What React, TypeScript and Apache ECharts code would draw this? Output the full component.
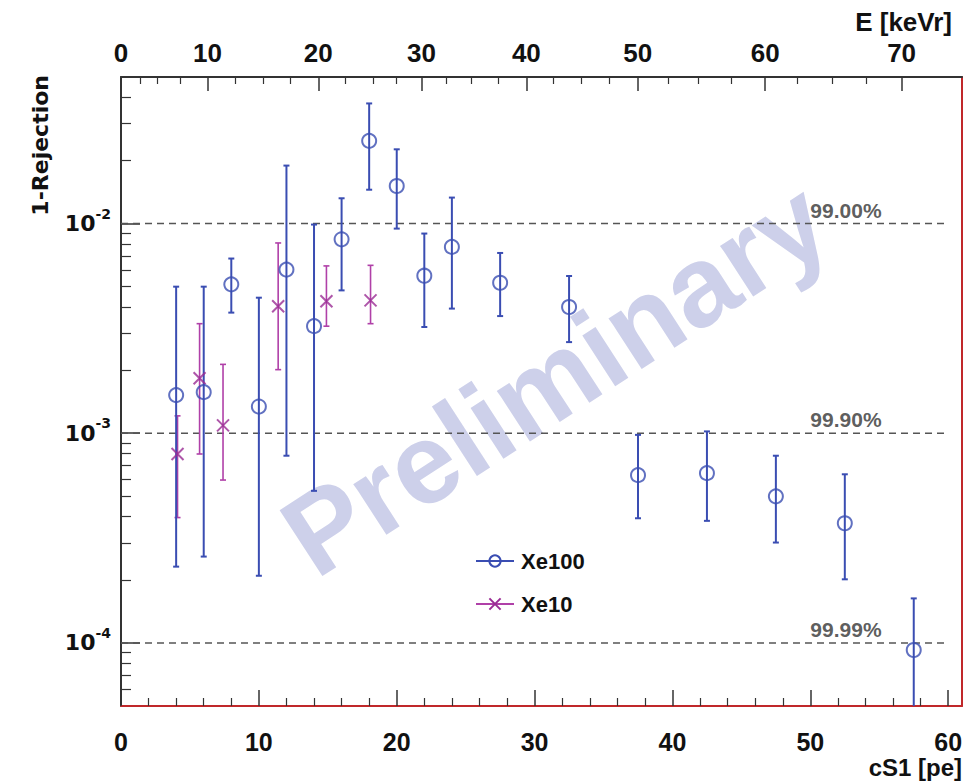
import React, { useEffect, useRef } from 'react';
import * as echarts from 'echarts';

// ---- data ----
const XE100_CS1 = [4, 6, 8, 10, 12, 14, 16, 18, 20, 22, 24, 27.5, 32.5, 37.5, 42.5, 47.5, 52.5, 57.5];
const XE100_VAL = [1.52e-3, 1.57e-3, 5.13e-3, 1.34e-3, 6.03e-3, 3.24e-3, 8.41e-3, 2.48e-2, 1.51e-2, 5.64e-3, 7.74e-3, 5.22e-3, 4.0e-3, 6.31e-4, 6.45e-4, 5.0e-4, 3.72e-4, 9.25e-5];
const XE100_HI = [5.0e-3, 5.0e-3, 6.81e-3, 4.43e-3, 1.89e-2, 9.89e-3, 1.32e-2, 3.74e-2, 2.26e-2, 8.96e-3, 1.33e-2, 7.24e-3, 5.62e-3, 9.82e-4, 1.02e-3, 7.81e-4, 6.37e-4, 1.63e-4];
const XE100_LO = [2.31e-4, 2.58e-4, 3.76e-3, 2.09e-4, 7.81e-4, 5.31e-4, 4.8e-3, 1.45e-2, 9.46e-3, 3.21e-3, 3.93e-3, 3.62e-3, 2.72e-3, 3.93e-4, 3.82e-4, 3.01e-4, 2.01e-4, 1e-5];

const XE10_CS1 = [4.1, 5.7, 7.4, 11.4, 14.9, 18.1];
const XE10_VAL = [7.96e-4, 1.83e-3, 1.09e-3, 4.03e-3, 4.26e-3, 4.3e-3];
const XE10_HI = [1.21e-3, 3.33e-3, 2.13e-3, 8.08e-3, 6.28e-3, 6.32e-3];
const XE10_LO = [3.96e-4, 7.96e-4, 5.98e-4, 2.01e-3, 3.24e-3, 3.33e-3];

const THRESH_VAL = [1e-2, 1e-3, 1e-4];
const THRESH_LABEL = ['99.00%', '99.90%', '99.99%'];
const THRESH_X = [0, 60];
const THRESH_LABEL_X = 50;

// bottom axis (cS1 [pe])
const X_MAJOR = [0, 10, 20, 30, 40, 50, 60];
const X_MINOR = [2, 4, 6, 8, 12, 14, 16, 18, 22, 24, 26, 28, 32, 34, 36, 38, 42, 44, 46, 48, 52, 54, 56, 58];
// top axis (E [keVr]) : labels and their cS1 positions
const E_MAJOR = [0, 10, 20, 30, 40, 50, 60, 70];
const E_MAJOR_CS1 = [0, 6.27, 14.31, 21.8, 29.4, 37.48, 46.72, 56.62];
const E_MINOR_CS1 = [1.4, 2.6, 4.3, 8.28, 10.33, 12.26, 16.24, 18.27, 19.99, 23.6, 25.42, 27.34, 31.33, 33.38, 35.43, 39.72, 41.9, 44.24, 49.07, 51.56, 54.06];
// y axis
const Y_MAJOR = [1e-4, 1e-3, 1e-2];
const Y_MINOR = [6e-5, 7e-5, 8e-5, 9e-5, 2e-4, 3e-4, 4e-4, 5e-4, 6e-4, 7e-4, 8e-4, 9e-4, 2e-3, 3e-3, 4e-3, 5e-3, 6e-3, 7e-3, 8e-3, 9e-3, 2e-2, 3e-2, 4e-2];

const BLUE = '#3a4db2';
const MAGENTA = '#b040a8';
const MAGENTA_DARK = '#9a2c94';
const RED = '#c0282a';
const DARK = '#333333';
const FONT = "'Liberation Sans', Arial, Helvetica, sans-serif";
const FONT_NARROW = "'Liberation Sans Narrow', 'Arial Narrow', 'Liberation Sans', Arial, sans-serif";
const FONT_Y = "'DejaVu Sans', sans-serif";

const X_MIN = 0;
const X_MAX = 61;
const Y_MIN = 5e-5;
const Y_MAX = 5e-2;

function makeErr(color: string, width: number, cap: number) {
  return (params: any, api: any) => {
    const x = api.value(0);
    const lo = api.value(2);
    const hi = api.value(3);
    const top = api.coord([x, hi]);
    const bot = api.coord([x, lo]);
    const style = { stroke: color, lineWidth: width };
    return {
      type: 'group',
      children: [
        { type: 'line', shape: { x1: top[0], y1: top[1], x2: bot[0], y2: bot[1] }, style },
        { type: 'line', shape: { x1: top[0] - cap, y1: top[1], x2: top[0] + cap, y2: top[1] }, style },
        { type: 'line', shape: { x1: bot[0] - cap, y1: bot[1], x2: bot[0] + cap, y2: bot[1] }, style },
      ],
    };
  };
}

const X_SYMBOL = 'path://M0,0L10,10M10,0L0,10';

export default function App() {
  const ref = useRef<HTMLDivElement>(null);
  useEffect(() => {
    if (!ref.current) return;
    const chart = echarts.init(ref.current, undefined, { renderer: 'svg' });
    const xe100Err = XE100_CS1.map((x, i) => [x, XE100_VAL[i], XE100_LO[i], XE100_HI[i]]);
    const xe10Err = XE10_CS1.map((x, i) => [x, XE10_VAL[i], XE10_LO[i], XE10_HI[i]]);

    const baseX = { type: 'value', min: X_MIN, max: X_MAX, splitLine: { show: false } };
    const baseY = { type: 'log', logBase: 10, min: Y_MIN, max: Y_MAX, splitLine: { show: false } };

    const option: any = {
      animation: false,
      backgroundColor: '#ffffff',
      grid: { left: 121, right: 15, top: 77, bottom: 75, containLabel: false },
      xAxis: [
        {
          ...baseX,
          position: 'bottom',
          axisLine: { show: true, onZero: false, lineStyle: { color: RED, width: 2 } },
          axisTick: { show: true, inside: true, length: 16, customValues: X_MAJOR, lineStyle: { color: DARK, width: 1.5 } },
          axisLabel: { customValues: X_MAJOR, margin: 23, fontSize: 25, fontWeight: 'bold', color: '#111', fontFamily: FONT_NARROW },
        },
        {
          ...baseX,
          position: 'bottom',
          axisLine: { show: false, onZero: false },
          axisTick: { show: true, inside: true, length: 8, customValues: X_MINOR, lineStyle: { color: DARK, width: 1.2 } },
          axisLabel: { show: false },
        },
        {
          ...baseX,
          position: 'top',
          axisLine: { show: true, onZero: false, lineStyle: { color: DARK, width: 2 } },
          axisTick: { show: true, inside: true, length: 14, customValues: E_MAJOR_CS1, lineStyle: { color: DARK, width: 1.5 } },
          axisLabel: {
            customValues: E_MAJOR_CS1,
            margin: 11,
            fontSize: 26,
            fontWeight: 'bold',
            color: '#111',
            fontFamily: FONT_NARROW,
            formatter: (v: number) => {
              let best = 0;
              E_MAJOR_CS1.forEach((p, i) => { if (Math.abs(p - v) < Math.abs(E_MAJOR_CS1[best] - v)) best = i; });
              return String(E_MAJOR[best]);
            },
          },
        },
        {
          ...baseX,
          position: 'top',
          axisLine: { show: false, onZero: false },
          axisTick: { show: true, inside: true, length: 7, customValues: E_MINOR_CS1, lineStyle: { color: DARK, width: 1.2 } },
          axisLabel: { show: false },
        },
      ],
      yAxis: [
        {
          ...baseY,
          position: 'left',
          axisLine: { show: true, onZero: false, lineStyle: { color: DARK, width: 2 } },
          axisTick: { show: true, inside: true, length: 19, customValues: Y_MAJOR, lineStyle: { color: DARK, width: 1.5 } },
          axisLabel: {
            customValues: Y_MAJOR,
            margin: 10,
            formatter: (v: number) => `{b|10}{s|${Math.round(Math.log10(v))}}`,
            rich: {
              b: { fontSize: 22, fontWeight: 'bold', color: '#111', fontFamily: FONT_Y, padding: [6, 0, 6, 0] },
              s: { fontSize: 14, fontWeight: 'bold', color: '#111', fontFamily: FONT_Y, verticalAlign: 'top' },
            },
          },
        },
        {
          ...baseY,
          position: 'left',
          axisLine: { show: false, onZero: false },
          axisTick: { show: true, inside: true, length: 10, customValues: Y_MINOR, lineStyle: { color: DARK, width: 1.2 } },
          axisLabel: { show: false },
        },
        {
          type: 'value',
          position: 'right',
          min: 0,
          max: 1,
          splitLine: { show: false },
          axisLine: { show: true, onZero: false, lineStyle: { color: RED, width: 2 } },
          axisTick: { show: false },
          axisLabel: { show: false },
        },
      ],
      legend: {
        data: ['Xe100', 'Xe10'],
        orient: 'vertical',
        left: 470,
        top: 545,
        itemWidth: 38,
        itemHeight: 14,
        itemGap: 21,
        textStyle: { fontSize: 22, fontWeight: 'bold', color: '#111', fontFamily: FONT, padding: [0, 0, 0, 2] },
      },
      graphic: [
        {
          type: 'text',
          x: 555,
          y: 378,
          rotation: (33 * Math.PI) / 180,
          z: 1,
          silent: true,
          style: {
            text: 'Preliminary',
            font: `bold 114px ${FONT}`,
            fill: '#cdd0ea',
            align: 'center',
            verticalAlign: 'middle',
          },
        },
        {
          type: 'text',
          x: 952,
          y: 22,
          style: { text: 'E [keVr]', font: `bold 26px ${FONT}`, fill: '#111', align: 'right', verticalAlign: 'middle' },
        },
        {
          type: 'text',
          x: 962,
          y: 767,
          style: { text: 'cS1 [pe]', font: `bold 24px ${FONT_NARROW}`, fill: '#111', align: 'right', verticalAlign: 'middle' },
        },
        {
          type: 'text',
          x: 40,
          y: 75,
          rotation: Math.PI / 2,
          style: { text: '1-Rejection', font: `bold 22px ${FONT_Y}`, fill: '#111', align: 'right', verticalAlign: 'middle' },
        },
      ],
      series: [
        ...THRESH_VAL.map((v, i) => ({
          type: 'line',
          name: 'thr' + i,
          xAxisIndex: 0,
          yAxisIndex: 0,
          data: THRESH_X.map((x) => [x, v]),
          symbol: 'none',
          silent: true,
          z: 2,
          lineStyle: { color: '#555', width: 1.5, type: [7, 5] },
        })),
        {
          type: 'scatter',
          name: 'thrLabels',
          xAxisIndex: 0,
          yAxisIndex: 0,
          data: THRESH_VAL.map((v) => [THRESH_LABEL_X, v]),
          symbolSize: 0,
          silent: true,
          label: {
            show: true,
            position: [0, -3],
            align: 'left',
            verticalAlign: 'bottom',
            formatter: (p: any) => THRESH_LABEL[p.dataIndex],
            fontSize: 21,
            fontWeight: 'bold',
            color: '#333',
            fontFamily: FONT,
          },
        },
        {
          type: 'custom',
          name: 'Xe10 err',
          xAxisIndex: 0,
          yAxisIndex: 0,
          data: xe10Err,
          encode: { x: 0, y: 1 },
          clip: true,
          z: 3,
          renderItem: makeErr(MAGENTA, 1.6, 3),
        },
        {
          type: 'custom',
          name: 'Xe100 err',
          xAxisIndex: 0,
          yAxisIndex: 0,
          data: xe100Err,
          encode: { x: 0, y: 1 },
          clip: true,
          z: 4,
          renderItem: makeErr(BLUE, 2, 3),
        },
        {
          type: 'scatter',
          name: 'Xe10 pts',
          xAxisIndex: 0,
          yAxisIndex: 0,
          data: XE10_CS1.map((x, i) => [x, XE10_VAL[i]]),
          symbol: X_SYMBOL,
          symbolSize: 12,
          z: 5,
          itemStyle: { color: 'rgba(0,0,0,0)', borderColor: MAGENTA_DARK, borderWidth: 2 },
        },
        {
          type: 'scatter',
          name: 'Xe100 pts',
          xAxisIndex: 0,
          yAxisIndex: 0,
          data: XE100_CS1.map((x, i) => [x, XE100_VAL[i]]),
          symbol: 'circle',
          symbolSize: 14,
          z: 6,
          itemStyle: { color: 'rgba(0,0,0,0)', borderColor: BLUE, borderWidth: 2 },
        },
        {
          type: 'line',
          name: 'Xe100',
          xAxisIndex: 0,
          yAxisIndex: 0,
          data: [],
          symbol: 'circle',
          symbolSize: 12,
          lineStyle: { color: BLUE, width: 2 },
          itemStyle: { color: 'rgba(0,0,0,0)', borderColor: BLUE, borderWidth: 2 },
        },
        {
          type: 'line',
          name: 'Xe10',
          xAxisIndex: 0,
          yAxisIndex: 0,
          data: [],
          symbol: X_SYMBOL,
          symbolSize: 12,
          lineStyle: { color: MAGENTA, width: 2 },
          itemStyle: { color: 'rgba(0,0,0,0)', borderColor: MAGENTA_DARK, borderWidth: 2 },
        },
      ],
    };
    chart.setOption(option);
    return () => chart.dispose();
  }, []);
  return (
    <div
      ref={ref}
      style={{ position: 'absolute', left: 0, top: 0, width: 977, height: 781, background: '#fff' }}
    />
  );
}
